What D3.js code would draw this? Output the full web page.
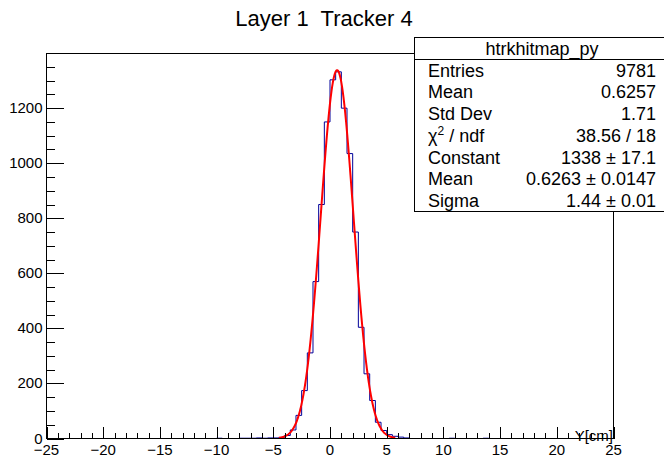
<!DOCTYPE html>
<html>
<head>
<meta charset="utf-8">
<script src="https://cdn.jsdelivr.net/npm/d3@7"></script>
<style>
  html, body { margin: 0; padding: 0; background: #fff; }
  svg { display: block; font-family: "Liberation Sans", Arial, Helvetica, sans-serif; }
  .keep-space { white-space: pre; }
</style>
</head>
<body>
<svg id="chart" width="664" height="457"></svg>
<script>
// ---- histogram content ----
const chartTitle = "Layer 1  Tracker 4";
const axisTitleX = "Y[cm]";
const xRange = [-25, 25];
const binWidth = 0.5;
// low edge of every filled bin and its count
const binLowEdges = [-10.0, -8.0, -7.5, -7.0, -6.5, -6.0, -5.5, -5.0,
                     -4.5, -4.0, -3.5, -3.0, -2.5, -2.0, -1.5, -1.0, -0.5,
                      0.0, 0.5, 1.0, 1.5, 2.0, 2.5, 3.0, 3.5, 4.0, 4.5,
                      5.0, 5.5, 6.0, 6.5, 10.5, 13.5];
const binCounts   = [1, 1, 1, 1, 2, 1, 2, 2,
                     4, 11, 31, 84, 174, 311, 570, 850, 1150,
                     1303, 1332, 1200, 1035, 750, 404, 235, 138, 59, 29,
                     14, 8, 5, 2, 1, 1];

// ---- axis ticks ----
const xTickValues = [-25, -20, -15, -10, -5, 0, 5, 10, 15, 20, 25];
const yTickValues = [0, 200, 400, 600, 800, 1000, 1200];

// ---- statistics / fit box ----
const statsName = "htrkhitmap_py";
const statsLabels = ["Entries", "Mean", "Std Dev", "χ² / ndf", "Constant", "Mean", "Sigma"];
const statsValues = ["9781", "0.6257", "1.71", "38.56 / 18", "1338 ± 17.1", "0.6263 ± 0.0147", "1.44 ± 0.01"];

// Gaussian fit parameters and range
const fitConstant = 1338;
const fitMean = 0.6263;
const fitSigma = 1.44;
const fitRange = [-4.504, 5.756];

// ---- layout ----
const svg = d3.select("#chart");
const frame = { left: 46.5, right: 613.5, top: 53.5, bottom: 438.5 };
const yMax = d3.max(binCounts) * 1.05;

const x = d3.scaleLinear().domain(xRange).range([frame.left, frame.right]);
const y = d3.scaleLinear().domain([0, yMax]).range([frame.bottom, frame.top]);

// full bin array across the axis range
const nBins = Math.round((xRange[1] - xRange[0]) / binWidth);
const bins = d3.range(nBins).map(i => ({ lo: xRange[0] + i * binWidth, n: 0 }));
binLowEdges.forEach((lo, k) => {
  const i = Math.round((lo - xRange[0]) / binWidth);
  bins[i].n = binCounts[k];
});

// clip to frame
svg.append("defs").append("clipPath").attr("id", "frameClip")
  .append("rect")
  .attr("x", frame.left).attr("y", frame.top)
  .attr("width", frame.right - frame.left).attr("height", frame.bottom - frame.top);

// histogram outline (steps)
const stepPts = [[x(xRange[0]), y(0)]];
bins.forEach(b => {
  stepPts.push([x(b.lo), y(b.n)]);
  stepPts.push([x(b.lo + binWidth), y(b.n)]);
});
stepPts.push([x(xRange[1]), y(0)]);

svg.append("path")
  .attr("clip-path", "url(#frameClip)")
  .attr("d", d3.line()(stepPts))
  .attr("fill", "none")
  .attr("stroke", "#000099")
  .attr("stroke-width", 1);

// Gaussian fit curve
const gauss = v => fitConstant * Math.exp(-0.5 * Math.pow((v - fitMean) / fitSigma, 2));
const fitX = d3.range(0, 401).map(i => fitRange[0] + (fitRange[1] - fitRange[0]) * i / 400);
svg.append("path")
  .attr("clip-path", "url(#frameClip)")
  .attr("d", d3.line().x(v => x(v)).y(v => y(gauss(v)))(fitX))
  .attr("fill", "none")
  .attr("stroke", "#ff0000")
  .attr("stroke-width", 2)
  .attr("stroke-linejoin", "round");

// frame
svg.append("rect")
  .attr("x", frame.left).attr("y", frame.top)
  .attr("width", frame.right - frame.left).attr("height", frame.bottom - frame.top)
  .attr("fill", "none").attr("stroke", "#000").attr("stroke-width", 1);

// x axis: ticks drawn inward (upward)
const xMinor = d3.range(xRange[0], xRange[1] + 0.001, 1).filter(v => !xTickValues.includes(v));
const xAxisMajor = d3.axisTop(x).tickValues(xTickValues).tickSize(11.5).tickFormat("");
const xAxisMinor = d3.axisTop(x).tickValues(xMinor).tickSize(5.8).tickFormat("");
[xAxisMajor, xAxisMinor].forEach(ax => {
  const g = svg.append("g").attr("transform", `translate(0,${frame.bottom})`).call(ax);
  g.select(".domain").remove();
  g.selectAll("line").attr("stroke", "#000").attr("shape-rendering", "crispEdges");
});
svg.append("g").selectAll("text").data(xTickValues).join("text")
  .attr("x", d => x(d))
  .attr("y", 455)
  .attr("text-anchor", "middle")
  .attr("font-size", 15)
  .attr("fill", "#000")
  .text(d => d3.format("d")(d));

// y axis: ticks drawn inward (rightward)
const yMinor = d3.range(0, yMax, 50).filter(v => !yTickValues.includes(v));
const yAxisMajor = d3.axisRight(y).tickValues(yTickValues).tickSize(17).tickFormat("");
const yAxisMinor = d3.axisRight(y).tickValues(yMinor).tickSize(8.5).tickFormat("");
[yAxisMajor, yAxisMinor].forEach(ax => {
  const g = svg.append("g").attr("transform", `translate(${frame.left},0)`).call(ax);
  g.select(".domain").remove();
  g.selectAll("line").attr("stroke", "#000").attr("shape-rendering", "crispEdges");
});
svg.append("g").selectAll("text").data(yTickValues).join("text")
  .attr("x", 42.5)
  .attr("y", d => y(d) + 5)
  .attr("text-anchor", "end")
  .attr("font-size", 15)
  .attr("fill", "#000")
  .text(d => d);

// axis title
svg.append("text")
  .attr("x", 613).attr("y", 441)
  .attr("text-anchor", "end")
  .attr("font-size", 15)
  .attr("fill", "#000")
  .text(axisTitleX);

// title
svg.append("text")
  .attr("class", "keep-space")
  .attr("x", 324).attr("y", 26)
  .attr("text-anchor", "middle")
  .attr("font-size", 22)
  .attr("fill", "#000")
  .text(chartTitle);

// statistics box
const box = { x: 414.5, y: 37.5, w: 256, rowH: 21.75 };
const boxH = box.rowH * (statsLabels.length + 1);
const sg = svg.append("g");
sg.append("rect")
  .attr("x", box.x).attr("y", box.y).attr("width", box.w).attr("height", boxH)
  .attr("fill", "#fff").attr("stroke", "#000").attr("stroke-width", 1);
sg.append("line")
  .attr("x1", box.x).attr("x2", box.x + box.w)
  .attr("y1", Math.round(box.y + box.rowH) + 0.5).attr("y2", Math.round(box.y + box.rowH) + 0.5)
  .attr("stroke", "#000").attr("stroke-width", 1);
sg.append("text")
  .attr("x", 542).attr("y", box.y + box.rowH / 2 + 6.4)
  .attr("text-anchor", "middle").attr("font-size", 18).attr("fill", "#000")
  .text(statsName);

statsLabels.forEach((lab, i) => {
  const by = box.y + box.rowH * (i + 1.5) + 6.4;
  const t = sg.append("text").attr("x", 428).attr("y", by)
    .attr("font-size", 18).attr("fill", "#000");
  const parts = lab.split("²");
  if (parts.length > 1) {
    t.append("tspan").text(parts[0]);
    t.append("tspan").attr("dy", -7).attr("font-size", 12).text("2");
    t.append("tspan").attr("dy", 7).text(parts[1]);
  } else {
    t.text(lab);
  }
  sg.append("text").attr("x", 656).attr("y", by)
    .attr("text-anchor", "end").attr("font-size", 18).attr("fill", "#000")
    .text(statsValues[i]);
});
</script>
</body>
</html>
